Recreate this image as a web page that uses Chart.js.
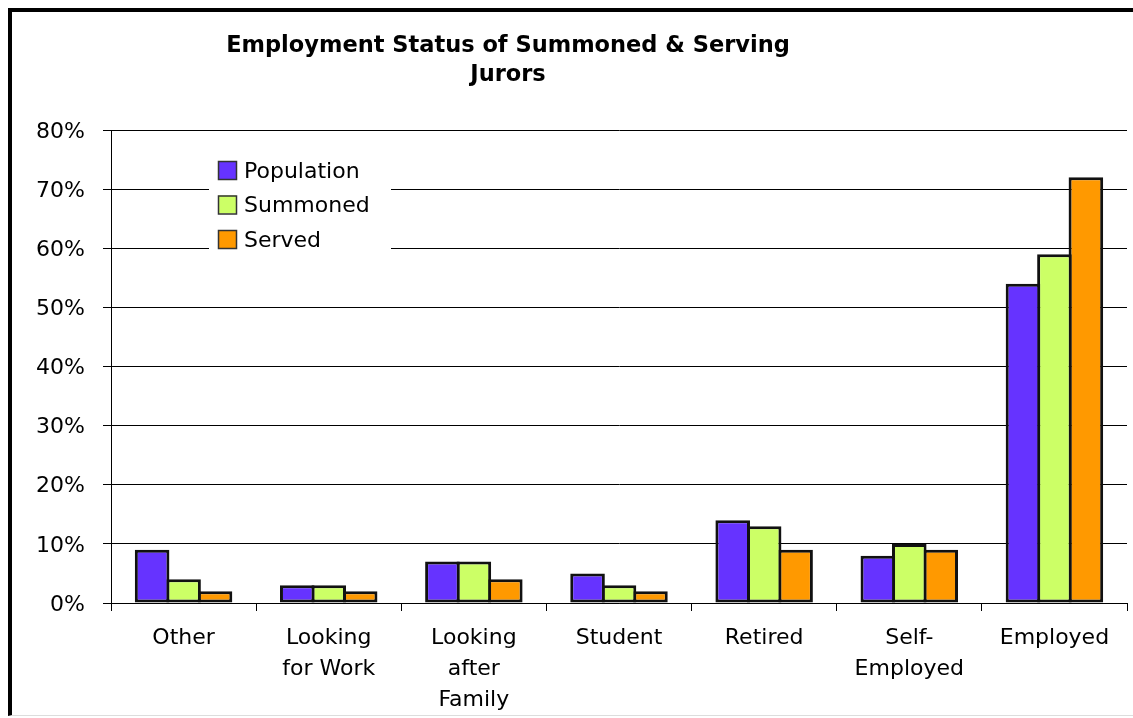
<!DOCTYPE html>
<html>
<head>
<meta charset="utf-8">
<script src="https://cdn.jsdelivr.net/npm/chart.js@4/dist/chart.umd.min.js"></script>
<style>
  html, body { margin: 0; padding: 0; background: #fff; }
  #wrap { position: relative; width: 1133px; height: 718px; overflow: hidden; }
  #frame { position: absolute; left: 8px; top: 8px; width: 1140px; height: 708px;
           border-left: 4px solid #000; border-top: 4px solid #000; border-bottom: 1px solid #ddd; box-sizing: border-box; }
  canvas { position: absolute; left: 0; top: 0; }
</style>
</head>
<body>
<div id="wrap">
  <div id="frame"></div>
  <canvas id="chart" width="1133" height="718"></canvas>
</div>
<script>
const categories = [
  ['Other'],
  ['Looking', 'for Work'],
  ['Looking', 'after', 'Family'],
  ['Student'],
  ['Retired'],
  ['Self-', 'Employed'],
  ['Employed']
];
const population = [9, 3, 7, 5, 14, 8, 54];
const summoned   = [4, 3, 7, 3, 13, 10, 59];
const served     = [2, 2, 4, 2, 9, 9, 72];
const yTicks = [0, 10, 20, 30, 40, 50, 60, 70, 80];
const titleLines = ['Employment Status of Summoned & Serving', 'Jurors'];

const FONT = 'DejaVu Sans, Verdana, sans-serif';

// Shared look of the bars; neighbours overlap slightly so their outlines merge
const barStyle = {
  categoryPercentage: 0.65,
  barPercentage: 1.1,
  borderColor: '#111',
  borderWidth: 3,
  borderSkipped: false
};

// Title drawn above the plot area
const titlePlugin = {
  id: 'titleText',
  afterDraw(chart) {
    const ctx = chart.ctx;
    ctx.save();
    ctx.fillStyle = '#000';
    ctx.font = 'bold 22.5px ' + FONT;
    ctx.textAlign = 'center';
    ctx.textBaseline = 'middle';
    ctx.fillText(titleLines[0], 508, 46);
    ctx.fillText(titleLines[1], 508, 75);
    ctx.restore();
  }
};

// Legend box sitting inside the plot area, covering the grid lines behind it
const legendPlugin = {
  id: 'insetLegend',
  afterDatasetsDraw(chart) {
    const ctx = chart.ctx;
    const x0 = 209, y0 = 150, w = 182, h = 108;
    ctx.save();
    ctx.fillStyle = '#fff';
    ctx.fillRect(x0, y0, w, h);
    ctx.font = '22px ' + FONT;
    ctx.textBaseline = 'middle';
    chart.data.datasets.forEach((ds, i) => {
      const y = 161 + i * 34.5;
      ctx.fillStyle = ds.backgroundColor;
      ctx.fillRect(218, y, 18, 18);
      ctx.strokeStyle = '#333';
      ctx.lineWidth = 1.5;
      ctx.strokeRect(218.5, y + 0.5, 18, 18);
      ctx.fillStyle = '#000';
      ctx.fillText(ds.label, 244, y + 11);
    });
    ctx.restore();
  }
};

new Chart(document.getElementById('chart'), {
  type: 'bar',
  data: {
    labels: categories,
    datasets: [
      Object.assign({ label: 'Population', data: population, backgroundColor: '#6633FF' }, barStyle),
      Object.assign({ label: 'Summoned',   data: summoned,   backgroundColor: '#CCFF66' }, barStyle),
      Object.assign({ label: 'Served',     data: served,     backgroundColor: '#FF9900' }, barStyle)
    ]
  },
  options: {
    responsive: false,
    animation: false,
    layout: { padding: { left: 0, right: 6, top: 130, bottom: 0 } },
    plugins: {
      legend: { display: false },
      title: { display: false },
      tooltip: { enabled: false }
    },
    scales: {
      x: {
        grid: {
          offset: true,
          drawOnChartArea: false,
          drawTicks: true,
          tickLength: 8,
          color: '#000',
          lineWidth: 1
        },
        border: { display: true, color: '#000', width: 1 },
        ticks: {
          color: '#000',
          font: { family: FONT, size: 22, lineHeight: 1.41 },
          padding: 12,
          maxRotation: 0,
          autoSkip: false
        },
        afterFit(axis) { axis.height = 115; }
      },
      y: {
        min: 0,
        max: 80,
        afterBuildTicks(axis) { axis.ticks = yTicks.map(v => ({ value: v })); },
        grid: {
          color: '#000',
          lineWidth: 1,
          tickLength: 8,
          drawTicks: true
        },
        border: { display: true, color: '#000', width: 1 },
        ticks: {
          color: '#000',
          font: { family: FONT, size: 22 },
          padding: 18,
          labelOffset: 2,
          callback: v => v + '%'
        },
        afterFit(axis) { axis.width = 111; }
      }
    }
  },
  plugins: [titlePlugin, legendPlugin]
});
</script>
</body>
</html>
